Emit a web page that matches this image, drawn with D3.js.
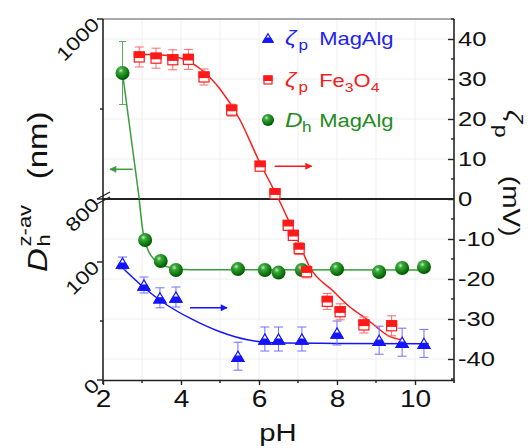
<!DOCTYPE html>
<html>
<head>
<meta charset="utf-8">
<script src="https://cdn.jsdelivr.net/npm/d3@7"></script>
<style>
  body { margin: 0; background: #fff; }
  svg { display: block; font-family: "Liberation Sans", Arial, sans-serif; }
</style>
</head>
<body>
<div id="chart"></div>
<script>
// ---- data ----
// zeta potential of MagAlg (mV), right axis
const phZetaMag = [2.5, 3.05, 3.46, 3.87, 5.46, 6.15, 6.5, 7.1, 8.0, 9.08, 9.67, 10.23];
const zetaMag = [-16, -21.5, -24.7, -24.5, -39.3, -35, -35, -35, -33.5, -35.3, -35.8, -36.1];
const zetaMagErr = [1.5, 2, 2.5, 2.5, 3.5, 3, 3, 3, 3, 3.5, 3.5, 3.5];

// zeta potential of Fe3O4 (mV), right axis
const phZetaFe = [2.93, 3.36, 3.79, 4.19, 4.59, 5.3, 6.03, 6.41, 6.75, 6.88, 7.03, 7.22, 7.75, 8.08, 8.69, 9.4];
const zetaFe = [35.5, 35.2, 34.8, 34.9, 30.5, 22.2, 8.2, 1.3, -6.6, -9.1, -12.4, -18.2, -25.6, -28.2, -31.5, -31.7];
const zetaFeErr = [2.5, 2.5, 2.5, 2.5, 2, 1.5, 1, 1, 1, 1, 1.5, 1.5, 2, 2, 2, 2.5];

// hydrodynamic size of MagAlg (nm), left (broken) axis
const phDh = [2.5, 3.08, 3.48, 3.87, 5.46, 6.15, 6.5, 7.1, 8.0, 9.08, 9.67, 10.23];
const dhMag = [940, 118.6, 100.8, 93.2, 94, 93.2, 91, 93.2, 94, 91.5, 94.9, 95.8];
const dhMagErr = [35, 0, 0, 0, 0, 0, 0, 0, 0, 0, 0, 0];

// fitted curves
const fitZetaMagPh = [2.5, 3.03, 3.64, 4.23, 5.0, 5.7, 6.54, 8.0, 10.35];
const fitZetaMag = [-17.2, -22, -26.5, -29.8, -33.2, -35.2, -36, -36.1, -36.2];
const fitZetaFePh = [2.9, 3.5, 4.0, 4.5, 5.0, 5.5, 6.0, 6.5, 7.0, 7.3, 7.9, 8.33, 8.76, 9.36, 9.66];
const fitZetaFe = [36.2, 36, 35.2, 32.5, 27.5, 20, 9.5, 0, -10.5, -17, -23, -27, -30, -34.4, -35.2];
const fitDhHighPh = [2.5, 2.93];
const fitDhHigh = [940, 800];
const fitDhLowPh = [2.93, 3.03, 3.12, 3.25, 3.46, 3.8, 4.3, 10.3];
const fitDhLow = [152.5, 124.6, 113, 104.5, 98.9, 94.7, 93.4, 93.2];

// axis ticks
const xTicks = [2, 4, 6, 8, 10];
const xMinor = [3, 5, 7, 9];
const zetaTicks = [-40, -30, -20, -10, 0, 10, 20, 30, 40];
const zetaMinor = [-45, -35, -25, -15, -5, 5, 15, 25, 35, 45];
const dhHighTicks = [800, 1000];
const dhHighMinor = [900];
const dhLowTicks = [0, 100];
const dhLowMinor = [50];

// ---- layout ----
const W = 531, H = 448;
const pl = 103, pr = 454, pt = 19, pb = 380, brk = 199;
const SX = 1.22; // figure font is wider than Arial

const blue = '#1414ff', blueLight = '#6f6fff';
const red = '#ff1a1a', redLight = '#ff6a6a';
const greenLine = '#3a9c3a';
const axisColor = '#222';

const svg = d3.select('#chart').append('svg')
  .attr('width', W)
  .attr('height', H);

const x = d3.scaleLinear().domain([2, 11]).range([pl, pr]);
const yZeta = d3.scaleLinear().domain([-45.25, 45]).range([pb, pt]);
const yHigh = d3.scaleLinear().domain([800, 1000]).range([brk, pt]);
const yLow = d3.scaleLinear().domain([0, 100]).range([pb, 262]);
const yDh = v => v >= 800 ? yHigh(v) : yLow(v);

function txt(parent, tx, ty, rot, size) {
  return parent.append('text')
    .attr('transform', `translate(${tx},${ty}) rotate(${rot}) scale(${SX},1)`)
    .attr('font-size', size);
}

// faint grid
const grid = svg.append('g').attr('stroke', '#efefef').attr('stroke-width', 1);
grid.selectAll('line.gx').data(xTicks.concat(xMinor).filter(d => d > 2)).join('line')
  .attr('x1', d => x(d)).attr('x2', d => x(d)).attr('y1', pt).attr('y2', pb);
grid.selectAll('line.gy').data(zetaTicks.filter(d => d !== 0)).join('line')
  .attr('x1', pl).attr('x2', pr).attr('y1', d => yZeta(d)).attr('y2', d => yZeta(d));

// frame + break line
svg.append('line').attr('x1', pl).attr('x2', pr).attr('y1', pt).attr('y2', pt)
  .attr('stroke', '#555').attr('stroke-width', 1);
svg.append('line').attr('x1', pl).attr('x2', pr).attr('y1', brk).attr('y2', brk)
  .attr('stroke', axisColor).attr('stroke-width', 2);

// bottom axis
const xAxis = svg.append('g')
  .attr('transform', `translate(0,${pb})`)
  .call(d3.axisBottom(x).tickValues(xTicks).tickSizeInner(5).tickSizeOuter(0).tickPadding(6));
xAxis.select('.domain').attr('stroke', axisColor).attr('stroke-width', 1.6);
xAxis.selectAll('.tick line').attr('stroke', axisColor).attr('stroke-width', 1.4);
xAxis.selectAll('text').attr('font-size', 23).attr('fill', '#111')
  .attr('font-family', '"Liberation Sans", Arial, sans-serif')
  .attr('transform', `scale(${SX},1)`);
xAxis.selectAll('line.minor').data(xMinor).join('line').attr('class', 'minor')
  .attr('x1', d => x(d)).attr('x2', d => x(d)).attr('y1', 0).attr('y2', 3)
  .attr('stroke', axisColor).attr('stroke-width', 1.4);

// right axis (zeta)
const rAxis = svg.append('g')
  .attr('transform', `translate(${pr},0)`)
  .call(d3.axisRight(yZeta).tickValues(zetaTicks).tickSizeInner(-6).tickSizeOuter(0).tickPadding(4));
rAxis.select('.domain').remove();
rAxis.append('line').attr('y1', pt).attr('y2', pb + 3)
  .attr('stroke', axisColor).attr('stroke-width', 1.6);
rAxis.selectAll('.tick line').attr('stroke', axisColor).attr('stroke-width', 1.4);
rAxis.selectAll('.tick text').attr('font-size', 21).attr('fill', '#111')
  .attr('font-family', '"Liberation Sans", Arial, sans-serif')
  .attr('x', 4 / SX)
  .attr('transform', `scale(${SX},1)`)
  .text(d => d < 0 ? '-' + Math.abs(d) : d);
rAxis.selectAll('line.minor').data(zetaMinor).join('line').attr('class', 'minor')
  .attr('x1', 0).attr('x2', -3).attr('y1', d => yZeta(d)).attr('y2', d => yZeta(d))
  .attr('stroke', axisColor).attr('stroke-width', 1.4);

// left axis (broken)
const lAxis = svg.append('g');
lAxis.append('line').attr('x1', pl).attr('x2', pl).attr('y1', pt).attr('y2', pb + 4)
  .attr('stroke', axisColor).attr('stroke-width', 1.6);
const leftTicks = dhHighTicks.map(v => ({v, y: yHigh(v)})).concat(dhLowTicks.map(v => ({v, y: yLow(v)})));
const leftMinor = dhHighMinor.map(v => yHigh(v)).concat(dhLowMinor.map(v => yLow(v)));
lAxis.selectAll('line.maj').data(leftTicks).join('line').attr('class', 'maj')
  .attr('x1', pl - 6).attr('x2', pl).attr('y1', d => d.y).attr('y2', d => d.y)
  .attr('stroke', axisColor).attr('stroke-width', 1.4);
lAxis.selectAll('line.min').data(leftMinor).join('line').attr('class', 'min')
  .attr('x1', pl - 3).attr('x2', pl).attr('y1', d => d).attr('y2', d => d)
  .attr('stroke', axisColor).attr('stroke-width', 1.4);
lAxis.selectAll('text').data(leftTicks).join('text')
  .attr('transform', d => `translate(${pl - 7},${d.y + 2}) rotate(-45) scale(${SX},1)`)
  .attr('text-anchor', 'end')
  .attr('dy', '0.35em')
  .attr('font-size', 19)
  .attr('fill', '#111')
  .text(d => d.v);
// break marks
lAxis.selectAll('line.brk').data([-3, 2]).join('line').attr('class', 'brk')
  .attr('x1', pl - 6).attr('x2', pl + 7)
  .attr('y1', d => brk + d + 3).attr('y2', d => brk + d - 4)
  .attr('stroke', axisColor).attr('stroke-width', 1.3);

// ---- fitted curves ----
const lineZeta = d3.line().x(d => x(d[0])).y(d => yZeta(d[1])).curve(d3.curveMonotoneX);
const lineDh = d3.line().x(d => x(d[0])).y(d => yDh(d[1])).curve(d3.curveMonotoneX);

svg.append('path').datum(d3.zip(fitDhHighPh, fitDhHigh))
  .attr('d', lineDh).attr('fill', 'none').attr('stroke', greenLine).attr('stroke-width', 1.5);
svg.append('path').datum(d3.zip(fitDhLowPh, fitDhLow))
  .attr('d', lineDh).attr('fill', 'none').attr('stroke', greenLine).attr('stroke-width', 1.5);
svg.append('path').datum(d3.zip(fitZetaMagPh, fitZetaMag))
  .attr('d', lineZeta).attr('fill', 'none').attr('stroke', blue).attr('stroke-width', 1.5);
svg.append('path').datum(d3.zip(fitZetaFePh, fitZetaFe))
  .attr('d', lineZeta).attr('fill', 'none').attr('stroke', red).attr('stroke-width', 1.5);

// ---- arrows ----
const defs = svg.append('defs');
[['ag', greenLine], ['ar', red], ['ab', blue]].forEach(([id, c]) => {
  defs.append('marker').attr('id', id).attr('viewBox', '0 0 10 10')
    .attr('refX', 9).attr('refY', 5).attr('markerWidth', 9).attr('markerHeight', 7)
    .attr('markerUnits', 'userSpaceOnUse').attr('orient', 'auto')
    .append('path').attr('d', 'M0,0L10,5L0,10z').attr('fill', c);
});
const arrows = [
  {x1: x(2.76), x2: x(2.18), y: yHigh(833), c: greenLine, m: 'ag'},
  {x1: x(6.4), x2: x(7.35), y: yZeta(8.2), c: red, m: 'ar'},
  {x1: x(4.23), x2: x(5.18), y: yZeta(-27.2), c: blue, m: 'ab'}
];
svg.selectAll('line.arrow').data(arrows).join('line').attr('class', 'arrow')
  .attr('x1', d => d.x1).attr('x2', d => d.x2).attr('y1', d => d.y).attr('y2', d => d.y)
  .attr('stroke', d => d.c).attr('stroke-width', 1.5)
  .attr('marker-end', d => `url(#${d.m})`);

// ---- error bars ----
function errorBars(phs, vals, errs, yScale, color, cap) {
  const g = svg.append('g').attr('stroke', color).attr('stroke-width', 1);
  const rows = d3.zip(phs, vals, errs).filter(d => d[2] > 0);
  g.selectAll('line.v').data(rows).join('line').attr('class', 'v')
    .attr('x1', d => x(d[0])).attr('x2', d => x(d[0]))
    .attr('y1', d => yScale(d[1] - d[2])).attr('y2', d => yScale(d[1] + d[2]));
  g.selectAll('line.t').data(rows).join('line').attr('class', 't')
    .attr('x1', d => x(d[0]) - cap).attr('x2', d => x(d[0]) + cap)
    .attr('y1', d => yScale(d[1] + d[2])).attr('y2', d => yScale(d[1] + d[2]));
  g.selectAll('line.b').data(rows).join('line').attr('class', 'b')
    .attr('x1', d => x(d[0]) - cap).attr('x2', d => x(d[0]) + cap)
    .attr('y1', d => yScale(d[1] - d[2])).attr('y2', d => yScale(d[1] - d[2]));
}
errorBars(phDh, dhMag, dhMagErr, yDh, '#5aae5a', 3.5);
errorBars(phZetaMag, zetaMag, zetaMagErr, yZeta, blueLight, 4.5);
errorBars(phZetaFe, zetaFe, zetaFeErr, yZeta, redLight, 4.5);

// ---- markers ----
// sphere gradient for the green points
const grad = defs.append('radialGradient').attr('id', 'sphere')
  .attr('cx', '0.38').attr('cy', '0.32').attr('r', '0.7');
[['0', '#c8ecc8'], ['0.25', '#3aa83a'], ['0.7', '#0f7a0f'], ['1', '#004d00']].forEach(([o, c]) =>
  grad.append('stop').attr('offset', o).attr('stop-color', c));

function triangle(g, s) {
  // half-filled triangle: open top, filled bottom
  const h = s * 0.85, w = s / 2;
  g.append('path').attr('d', `M0,${-h / 2}L${w},${h / 2}L${-w},${h / 2}Z`)
    .attr('fill', '#fff').attr('stroke', blue).attr('stroke-width', 1.2);
  g.append('path').attr('d', `M${-w / 2},0L${w / 2},0L${w},${h / 2}L${-w},${h / 2}Z`)
    .attr('fill', blue).attr('stroke', blue).attr('stroke-width', 1.2);
}
function square(g, s) {
  // half-filled square: filled top, open bottom
  g.append('rect').attr('x', -s / 2).attr('y', -s / 2).attr('width', s).attr('height', s)
    .attr('fill', '#fff').attr('stroke', red).attr('stroke-width', 1.2);
  g.append('rect').attr('x', -s / 2).attr('y', -s / 2).attr('width', s).attr('height', s * 0.55)
    .attr('fill', red).attr('stroke', red).attr('stroke-width', 1.2);
}
function sphere(g, r) {
  g.append('circle').attr('r', r).attr('fill', 'url(#sphere)');
}

svg.append('g').selectAll('g').data(d3.zip(phDh, dhMag)).join('g')
  .attr('transform', d => `translate(${x(d[0])},${yDh(d[1])})`)
  .each(function() { sphere(d3.select(this), 7); });
svg.append('g').selectAll('g').data(d3.zip(phZetaMag, zetaMag)).join('g')
  .attr('transform', d => `translate(${x(d[0])},${yZeta(d[1])})`)
  .each(function() { triangle(d3.select(this), 12); });
svg.append('g').selectAll('g').data(d3.zip(phZetaFe, zetaFe)).join('g')
  .attr('transform', d => `translate(${x(d[0])},${yZeta(d[1])})`)
  .each(function() { square(d3.select(this), 10); });

// ---- legend ----
const legend = [
  {y: 38, color: '#2222ee', sym: triangle, size: 10, head: 'ζ', subX: 11, sub: 'p', rest: [['MagAlg', 0]]},
  {y: 80, color: '#f22020', sym: square, size: 8, head: 'ζ', subX: 11, sub: 'p', rest: [['Fe', 0], ['3', 1], ['O', 0], ['4', 1]]},
  {y: 120, color: '#228b22', sym: sphere, size: 6, head: 'D', subX: 14, sub: 'h', rest: [['MagAlg', 0]]}
];
legend.forEach(row => {
  const m = svg.append('g').attr('transform', `translate(268,${row.y})`);
  row.sym(m, row.size);
  const g = svg.append('g').attr('transform', `translate(285,${row.y + 7}) scale(${SX},1)`)
    .attr('fill', row.color);
  g.append('text').attr('font-size', 20).attr('font-style', 'italic').text(row.head);
  g.append('text').attr('x', row.subX).attr('y', 5).attr('font-size', 14).text(row.sub);
  const t = g.append('text').attr('x', 28).attr('font-size', 18);
  row.rest.forEach(([s, isSub], i) => {
    const prev = i > 0 ? row.rest[i - 1][1] : 0;
    t.append('tspan').attr('dy', (isSub - prev) * 5).attr('font-size', isSub ? 13 : 18).text(s);
  });
});

// ---- axis titles ----
txt(svg, 278, 441, 0, 24).attr('text-anchor', 'middle').attr('fill', '#111').text('pH');

const lt = svg.append('g').attr('transform', `translate(47,272) rotate(-90) scale(${SX},1)`)
  .attr('fill', '#111');
lt.append('text').attr('font-size', 27).attr('font-style', 'italic').text('D');
lt.append('text').attr('x', 21).attr('y', -16).attr('font-size', 18).text('z-av');
lt.append('text').attr('x', 21).attr('y', 3).attr('font-size', 18).text('h');
lt.append('text').attr('x', 76).attr('font-size', 27).text('(nm)');

const rt = svg.append('g').attr('transform', `translate(503,110) rotate(90) scale(${SX},1)`)
  .attr('fill', '#111');
rt.append('text').attr('y', -4).attr('font-size', 23).attr('font-style', 'italic').text('ζ');
rt.append('text').attr('x', 12).attr('y', 8).attr('font-size', 19).text('p');
rt.append('text').attr('x', 54).attr('font-size', 23).text('(mV)');
</script>
</body>
</html>
